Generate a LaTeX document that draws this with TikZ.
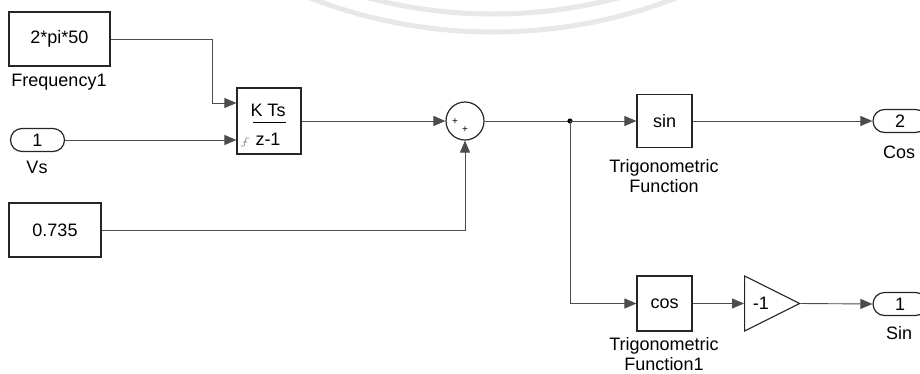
\documentclass[tikz,border=0pt]{standalone}
\usepackage{fontspec}
\setmainfont{Liberation Sans}
\usetikzlibrary{arrows.meta,positioning,shapes.geometric,shapes.misc}

\tikzset{
  blk/.style={draw=black!85, line width=1.2pt, fill=white, inner sep=0pt},
  port/.style={blk, rounded rectangle, minimum width=54pt, minimum height=23pt},
  lbl/.style={inner sep=0pt, align=center},
  sig/.style={draw=black!70, line width=0.9pt, -{Triangle[length=12pt,width=10pt]}},
  wire/.style={draw=black!70, line width=0.9pt}
}

\begin{document}
\begin{tikzpicture}[x=1pt, y=-1pt, font=\fontsize{18}{20}\selectfont]
    \useasboundingbox (0,0) rectangle (920,373);

    % faint watermark rings
    \draw[gray!18, line width=5pt] (493,-475) circle (507);
    \draw[gray!18, line width=5pt] (493,-475) circle (489);

    % Quellen
    \node[blk, minimum width=101pt, minimum height=54pt] (freq) at (59.5,39) {2*pi*50};
    \node[lbl] (freqlbl) at (59,82) {Frequency1};
    \node[port] (vs) at (37.5,140) {1};
    \node[lbl] (vslbl) at (37,167) {Vs};
    \node[blk, minimum width=92pt, minimum height=54pt] (const) at (55,230) {0.735};

    % Integrator
    \node[blk, minimum width=64pt, minimum height=66pt] (integ) at (269,121) {};
    \node[lbl] (kts) at (268,110) {K Ts};
    \node[lbl] (zm1) at (268,139) {z-1};
    \draw[line width=0.8pt] (253,122) -- (286,122);
    \draw[gray, line width=0.6pt] (241,146) -- (244,146) -- (246,138) -- (249,138)
        (243,142) -- (247,142);

    % Summe
    \node[blk, circle, minimum size=38pt] (sum) at (465,121) {};
    \node[lbl, font=\fontsize{10}{10}\selectfont] (plus1) at (455,122) {+};
    \node[lbl, font=\fontsize{10}{10}\selectfont] (plus2) at (465,130) {+};

    % Trigonometrie
    \node[blk, minimum width=55pt, minimum height=53pt] (sinf) at (664.5,121) {sin};
    \node[lbl] (sinlbl) at (664,176) {Trigonometric\\Function};
    \node[blk, minimum width=55pt, minimum height=55pt] (cosf) at (664.5,303.5) {cos};
    \node[lbl] (coslbl) at (664,354) {Trigonometric\\Function1};
    \node[blk, isosceles triangle, isosceles triangle apex angle=60,
          isosceles triangle stretches, minimum width=55pt, minimum height=55pt,
          anchor=west] (gain) at (744,303.5) {-1\hspace{18pt}};

    % Ausgaenge
    \node[port] (cosout) at (900,121) {2};
    \node[lbl] (coutlbl) at (899,152) {Cos};
    \node[port] (sinout) at (900,304) {1};
    \node[lbl] (soutlbl) at (899,333) {Sin};

    % Verbindungen
    \coordinate (fbend) at (212,39);
    \coordinate (in1) at ([yshift=18pt]integ.west);
    \coordinate (in2) at ([yshift=-19pt]integ.west);
    \coordinate (split) at (570,121);
    \draw[sig] (freq.east) -- (fbend) |- (in1);
    \draw[sig] (vs.east) -- (vs.east -| in2);
    \draw[sig] (integ.east) -- (sum.west);
    \draw[sig] (const.east) -| (sum.south);
    \draw[wire] (sum.east) -- (split);
    \fill[black] (split) circle (2.6pt);
    \draw[sig] (split) -- (sinf.west);
    \draw[sig] (split) |- (cosf.west);
    \draw[sig] (sinf.east) -- (cosout.west);
    \draw[sig] (cosf.east) -- (gain.west);
    \draw[sig] (gain.east) -- (sinout.west);
\end{tikzpicture}
\end{document}
